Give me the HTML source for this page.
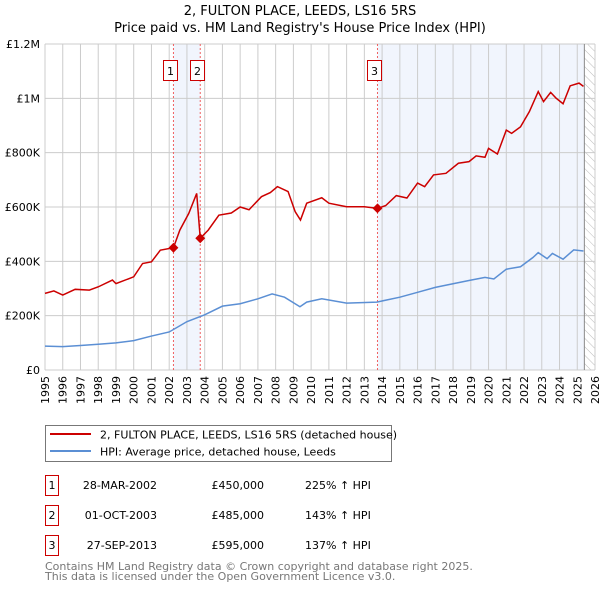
<!DOCTYPE html>
<html><head><meta charset="utf-8"><style>
body{margin:0;background:#fff;font-family:"Liberation Sans","DejaVu Sans",sans-serif;}
svg text{font-family:"DejaVu Sans","Liberation Sans",sans-serif;}
</style></head><body>
<svg id="c" width="600" height="590" viewBox="0 0 600 590">
<defs><pattern id="hatch" width="6" height="6" patternUnits="userSpaceOnUse" patternTransform="rotate(-45)"><line x1="0" y1="0" x2="0" y2="6" stroke="#bbb" stroke-width="1"/></pattern></defs>
<text x="300" y="15" text-anchor="middle" font-size="13">2, FULTON PLACE, LEEDS, LS16 5RS</text>
<text x="300" y="32" text-anchor="middle" font-size="13">Price paid vs. HM Land Registry's House Price Index (HPI)</text>
<g id="plot"></g>
<g>
<rect x="45.5" y="425.5" width="346" height="36" fill="#fff" stroke="#777"/>
<line x1="50" y1="434" x2="91" y2="434" stroke="#cc0000" stroke-width="2"/>
<text x="100" y="438.5" font-size="11">2, FULTON PLACE, LEEDS, LS16 5RS (detached house)</text>
<line x1="50" y1="451" x2="91" y2="451" stroke="#5b8fd4" stroke-width="2"/>
<text x="100" y="455.5" font-size="11">HPI: Average price, detached house, Leeds</text>
</g>
<g font-size="11">
<rect x="45.5" y="475.5" width="13" height="20" fill="#fff" stroke="#cc0000"/><text x="52" y="489" text-anchor="middle">1</text>
<text x="157" y="489" text-anchor="end">28-MAR-2002</text><text x="264" y="489" text-anchor="end">£450,000</text><text x="305" y="489">225% ↑ HPI</text>
<rect x="45.5" y="505.5" width="13" height="20" fill="#fff" stroke="#cc0000"/><text x="52" y="519" text-anchor="middle">2</text>
<text x="157" y="519" text-anchor="end">01-OCT-2003</text><text x="264" y="519" text-anchor="end">£485,000</text><text x="305" y="519">143% ↑ HPI</text>
<rect x="45.5" y="535.5" width="13" height="20" fill="#fff" stroke="#cc0000"/><text x="52" y="549" text-anchor="middle">3</text>
<text x="157" y="549" text-anchor="end">27-SEP-2013</text><text x="264" y="549" text-anchor="end">£595,000</text><text x="305" y="549">137% ↑ HPI</text>
</g>
<text x="45" y="570" font-size="11" fill="#777">Contains HM Land Registry data © Crown copyright and database right 2025.</text>
<text x="45" y="580" font-size="11" fill="#777">This data is licensed under the Open Government Licence v3.0.</text>
</svg>
<script>
const yearTicks=[1995,1996,1997,1998,1999,2000,2001,2002,2003,2004,2005,2006,2007,2008,2009,2010,2011,2012,2013,2014,2015,2016,2017,2018,2019,2020,2021,2022,2023,2024,2025,2026];
const valueTicks=[0,200000,400000,600000,800000,1000000,1200000];
const valueLabels=["£0","£200K","£400K","£600K","£800K","£1M","£1.2M"];
const hpiYears=[1995,1996,1997,1998,1999,2000,2001,2002,2003,2004,2005,2006,2007,2007.8,2008.5,2009.37,2009.75,2010.6,2012,2013.7,2015,2016,2017,2018.1,2019,2019.8,2020.3,2021,2021.8,2022.5,2022.8,2023.3,2023.6,2024.2,2024.8,2025.35];
const hpiValues=[88000,86000,90000,95000,100000,108000,125000,140000,178000,203000,235000,244000,262000,280000,268000,233000,250000,262000,246000,250000,268000,286000,304000,319000,331000,341000,335000,371000,380000,414000,432000,410000,429000,408000,442000,438000];
const priceYears=[1995,1995.5,1996,1996.7,1997.5,1998,1998.8,1999,2000,2000.5,2001,2001.5,2002.24,2002.6,2003.1,2003.55,2003.75,2004.2,2004.8,2005.5,2006,2006.5,2007.2,2007.7,2008.1,2008.7,2009.1,2009.4,2009.75,2010.6,2011,2012,2013,2013.74,2014.2,2014.8,2015.4,2016,2016.4,2016.9,2017.6,2018.3,2018.9,2019.3,2019.8,2020,2020.5,2021,2021.3,2021.8,2022.3,2022.8,2023.1,2023.5,2023.8,2024.2,2024.6,2025.1,2025.35];
const priceValues=[282000,291000,276000,297000,294000,306000,331000,318000,343000,392000,398000,441000,450000,515000,576000,650000,485000,515000,570000,578000,600000,590000,638000,653000,675000,657000,583000,552000,614000,634000,614000,601000,601000,595000,605000,642000,633000,688000,675000,718000,724000,761000,767000,788000,783000,816000,795000,883000,871000,895000,951000,1025000,988000,1022000,1001000,980000,1046000,1056000,1044000];
const saleLabels=["1","2","3"];
const saleYears=[2002.24,2003.75,2013.74];
const saleValues=[450000,485000,595000];
const X0=45,X1=595,Y0=370,Y1=44;
const xs=y=>X0+(y-1995)/(2026-1995)*(X1-X0);
const ys=v=>Y0-v/1200000*(Y0-Y1);
const NS="http://www.w3.org/2000/svg";
const g=document.getElementById('plot');
function mk(t,a,p){const e=document.createElementNS(NS,t);for(const k in a)e.setAttribute(k,a[k]);(p||g).appendChild(e);return e;}
let r=mk('rect',{x:xs(saleYears[0]),y:Y1,width:xs(saleYears[1])-xs(saleYears[0]),height:Y0-Y1,fill:'#eef3fc',opacity:0.8});


r=mk('rect',{x:xs(saleYears[2]),y:Y1,width:xs(2025.4)-xs(saleYears[2]),height:Y0-Y1,fill:'#eef3fc',opacity:0.8});


r=mk('rect',{x:xs(2025.4),y:Y1,width:X1-xs(2025.4),height:Y0-Y1,fill:'url(#hatch)'});


valueTicks.forEach((v,i)=>{
 const l=mk('line',{x1:X0,x2:X1,y1:ys(v),y2:ys(v),stroke:'#ccc'});
 
 
 const t=mk('text',{x:40,y:ys(v)+4,'text-anchor':'end','font-size':11});
 t.textContent=valueLabels[i];
 
 
});
yearTicks.forEach(yr=>{
 const l=mk('line',{x1:xs(yr),x2:xs(yr),y1:Y1,y2:Y0,stroke:'#ccc'});
 
 
 const t=mk('text',{x:0,y:0,'text-anchor':'end','font-size':11,transform:`translate(${xs(yr)+4},${Y0+6}) rotate(-90)`});
 t.textContent=yr;
 
 
});
const hl=mk('line',{x1:xs(2025.4),x2:xs(2025.4),y1:Y1,y2:Y0,stroke:'#888'});


saleYears.forEach((sy,i)=>{
 const l=mk('line',{x1:xs(sy),x2:xs(sy),y1:Y1,y2:Y0,stroke:'#f06060','stroke-dasharray':'2,2'});
 
 
 const b=mk('rect',{x:Math.round(xs(sy)-10)+0.5,y:60.5,width:14,height:20,fill:'#fff',stroke:'#cc0000'});
 
 
 const t=mk('text',{x:Math.round(xs(sy)-10)+7.5,y:75,'text-anchor':'middle','font-size':11});
 t.textContent=saleLabels[i];
 
 
});
const bp=mk('polyline',{points:hpiYears.map((y,i)=>xs(y)+','+ys(hpiValues[i])).join(' '),fill:'none',stroke:'#5b8fd4','stroke-width':1.5});


const rp=mk('polyline',{points:priceYears.map((y,i)=>xs(y)+','+ys(priceValues[i])).join(' '),fill:'none',stroke:'#cc0000','stroke-width':1.5});


saleYears.forEach((sy,i)=>{
 const d=mk('rect',{x:xs(sy)-3.5,y:ys(saleValues[i])-3.5,width:7,height:7,fill:'#cc0000',transform:`rotate(45 ${xs(sy)} ${ys(saleValues[i])})`});
 
 
});
</script>
</body></html>
